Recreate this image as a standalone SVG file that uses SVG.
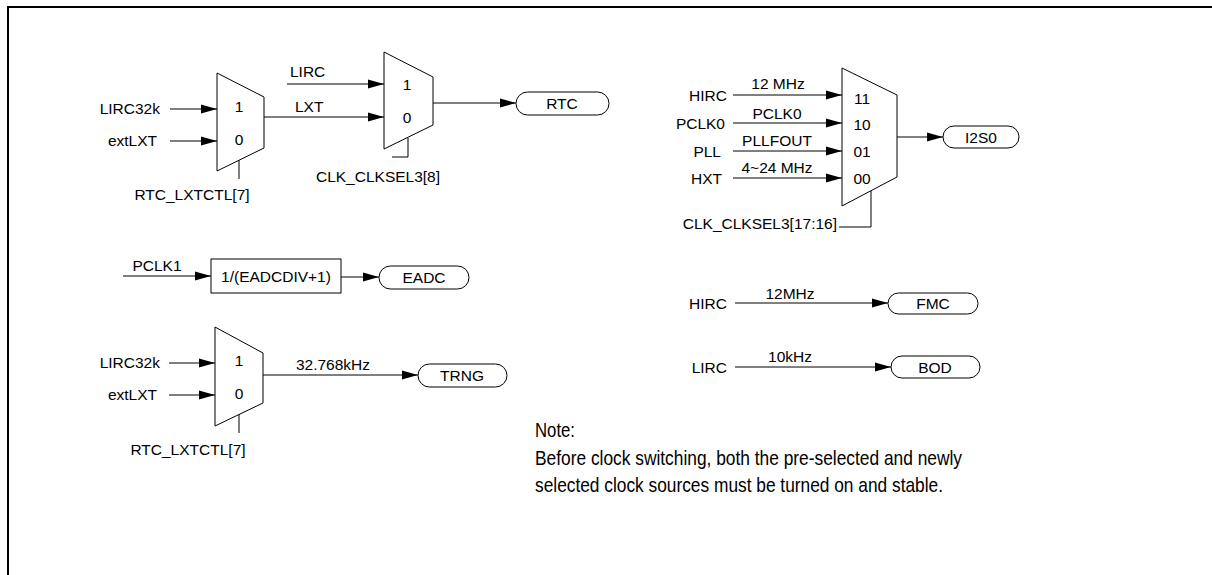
<svg xmlns="http://www.w3.org/2000/svg" width="1212" height="575" viewBox="0 0 1212 575">
<style>
text{font-family:"Liberation Sans",Arial,sans-serif;font-size:15.5px;fill:#000}
.e{text-anchor:end}.m{text-anchor:middle}
.note{font-size:21px}
.ln{fill:none;stroke:#000;stroke-width:1}
.sh{fill:#fff;stroke:#000;stroke-width:1}
</style>
<defs>
<marker id="ah" markerUnits="userSpaceOnUse" markerWidth="16" markerHeight="10" refX="16" refY="5" orient="auto">
<path d="M0,0.5 L16,5 L0,9.5 Z" fill="#000"/>
</marker>
</defs>
<path d="M8,575 V7 H1212" fill="none" stroke="#000" stroke-width="2"/>

<g id="connectors">
<line class="ln" x1="170" y1="109" x2="217" y2="109" marker-end="url(#ah)"/>
<line class="ln" x1="170" y1="141" x2="217" y2="141" marker-end="url(#ah)"/>
<line class="ln" x1="239" y1="159" x2="239" y2="179"/>
<line class="ln" x1="264" y1="117" x2="384" y2="117" marker-end="url(#ah)"/>
<line class="ln" x1="287" y1="84" x2="384" y2="84" marker-end="url(#ah)"/>
<polyline class="ln" points="408,138 408,157 392,157"/>
<line class="ln" x1="433" y1="103" x2="516" y2="103" marker-end="url(#ah)"/>

<line class="ln" x1="733" y1="95" x2="842" y2="95" marker-end="url(#ah)"/>
<line class="ln" x1="733" y1="123" x2="842" y2="123" marker-end="url(#ah)"/>
<line class="ln" x1="733" y1="151" x2="842" y2="151" marker-end="url(#ah)"/>
<line class="ln" x1="733" y1="178" x2="842" y2="178" marker-end="url(#ah)"/>
<polyline class="ln" points="871,191 871,227 839,227"/>
<line class="ln" x1="897" y1="137" x2="943" y2="137" marker-end="url(#ah)"/>

<line class="ln" x1="123" y1="276" x2="211" y2="276" marker-end="url(#ah)"/>
<line class="ln" x1="341" y1="277" x2="379" y2="277" marker-end="url(#ah)"/>

<line class="ln" x1="169" y1="363" x2="215" y2="363" marker-end="url(#ah)"/>
<line class="ln" x1="169" y1="395" x2="215" y2="395" marker-end="url(#ah)"/>
<line class="ln" x1="239" y1="413" x2="239" y2="433"/>
<line class="ln" x1="263" y1="375" x2="418" y2="375" marker-end="url(#ah)"/>

<line class="ln" x1="735" y1="303" x2="888" y2="303" marker-end="url(#ah)"/>
<line class="ln" x1="735" y1="367" x2="891" y2="367" marker-end="url(#ah)"/>
</g>

<g id="mux-lxt">
<polygon class="sh" points="217,73 264,97 264,148 217,171"/>
<text class="m" x="239" y="112">1</text>
<text class="m" x="239" y="145">0</text>
</g>
<g id="labels-lxt">
<text class="e" x="160" y="114">LIRC32k</text>
<text class="e" x="157" y="146">extLXT</text>
<text class="m" x="192" y="200">RTC_LXTCTL[7]</text>
</g>

<g id="mux-rtc">
<polygon class="sh" points="384,52 433,77 433,125 384,149"/>
<text class="m" x="407" y="90">1</text>
<text class="m" x="407" y="123">0</text>
</g>
<g id="labels-rtc">
<text x="290" y="77">LIRC</text>
<text x="295" y="112">LXT</text>
<text class="m" x="378" y="182">CLK_CLKSEL3[8]</text>
</g>
<g id="rtc">
<rect class="sh" x="516" y="92" width="93" height="23" rx="11.5"/>
<text class="m" x="562" y="109">RTC</text>
</g>

<g id="mux-i2s0">
<polygon class="sh" points="842,68 897,95 897,177 842,206"/>
<text class="m" x="862" y="104">11</text>
<text class="m" x="862" y="130">10</text>
<text class="m" x="862" y="157">01</text>
<text class="m" x="862" y="184">00</text>
</g>
<g id="labels-i2s0">
<text class="e" x="727" y="101">HIRC</text>
<text class="e" x="725" y="129">PCLK0</text>
<text class="e" x="721" y="157">PLL</text>
<text class="e" x="722" y="184">HXT</text>
<text class="m" x="778" y="89">12 MHz</text>
<text class="m" x="777" y="119">PCLK0</text>
<text class="m" x="777" y="146">PLLFOUT</text>
<text class="m" x="777" y="173">4~24 MHz</text>
<text class="e" x="837" y="229">CLK_CLKSEL3[17:16]</text>
</g>
<g id="i2s0">
<rect class="sh" x="943" y="126" width="76" height="22" rx="11"/>
<text class="m" x="981" y="143">I2S0</text>
</g>

<g id="eadcdiv">
<rect class="sh" x="211" y="259" width="130" height="34"/>
<text class="m" x="276" y="282">1/(EADCDIV+1)</text>
</g>
<text class="m" x="157" y="271">PCLK1</text>
<g id="eadc">
<rect class="sh" x="379" y="266" width="90" height="23" rx="11.5"/>
<text class="m" x="424" y="283">EADC</text>
</g>

<g id="mux-trng">
<polygon class="sh" points="215,327 263,353 263,403 215,426"/>
<text class="m" x="239" y="366">1</text>
<text class="m" x="239" y="399">0</text>
</g>
<g id="labels-trng">
<text class="e" x="160" y="368">LIRC32k</text>
<text class="e" x="157" y="400">extLXT</text>
<text class="m" x="188" y="455">RTC_LXTCTL[7]</text>
<text class="m" x="333" y="370">32.768kHz</text>
</g>
<g id="trng">
<rect class="sh" x="418" y="364" width="89" height="23" rx="11.5"/>
<text class="m" x="462" y="381">TRNG</text>
</g>

<g id="fmc">
<text class="e" x="727" y="309">HIRC</text>
<text class="m" x="790" y="299">12MHz</text>
<rect class="sh" x="888" y="293" width="90" height="21" rx="10.5"/>
<text class="m" x="933" y="309">FMC</text>
</g>
<g id="bod">
<text class="e" x="727" y="373">LIRC</text>
<text class="m" x="790" y="362">10kHz</text>
<rect class="sh" x="891" y="356" width="89" height="22" rx="11"/>
<text class="m" x="935" y="373">BOD</text>
</g>

<g id="note">
<text class="note" x="535" y="437" textLength="40" lengthAdjust="spacingAndGlyphs">Note:</text>
<text class="note" x="535" y="465" textLength="427" lengthAdjust="spacingAndGlyphs">Before clock switching, both the pre-selected and newly</text>
<text class="note" x="535" y="492" textLength="408" lengthAdjust="spacingAndGlyphs">selected clock sources must be turned on and stable.</text>
</g>
</svg>
